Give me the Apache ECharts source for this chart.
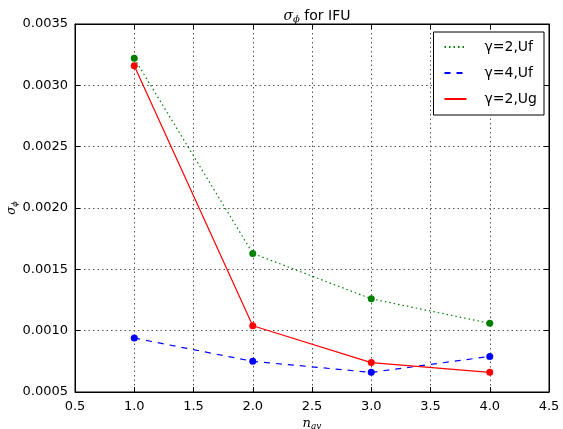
<!DOCTYPE html>
<html><head><meta charset="utf-8">
<script src="https://cdn.jsdelivr.net/npm/echarts@6/dist/echarts.min.js"></script>
<style>html,body{margin:0;padding:0;background:#fff}#c{width:563px;height:429px}</style>
</head><body><div id="c"></div>
<script>
const xValues = [1.0, 2.0, 3.0, 4.0];
const g2Uf = [0.00322, 0.00163, 0.00126, 0.00106];
const g4Uf = [0.00094, 0.00075, 0.00066, 0.00079];
const g2Ug = [0.00316, 0.00104, 0.00074, 0.00066];
const seriesNames = ['γ=2,Uf', 'γ=4,Uf', 'γ=2,Ug'];

const font = 'DejaVu Sans';
const chart = echarts.init(document.getElementById('c'), null, {renderer: 'canvas'});
const pairs = arr => xValues.map((x, i) => [x, arr[i]]);
const mk = (name, data, color, type) => ({
  name, type: 'line', data: pairs(data), symbol: 'circle', symbolSize: 7,
  itemStyle: {color}, lineStyle: {color, width: 1.2, type}, animation: false
});
const gridLine = {show: true, lineStyle: {color: '#555', type: [1.5, 3], width: 1}};
chart.setOption({
  backgroundColor: '#fff',
  title: {
    text: '{s|σ}{sub|ϕ}{n| for IFU}', left: 312, top: 3, textAlign: 'center',
    textStyle: {fontWeight: 'normal', rich: {
      s: {fontFamily: 'DejaVu Serif', fontStyle: 'italic', fontWeight: 'normal', fontSize: 14, color: '#000'},
      sub: {fontFamily: 'DejaVu Serif', fontStyle: 'italic', fontWeight: 'normal', fontSize: 10, color: '#000', padding: [6, 0, 0, 0]},
      n: {fontFamily: font, fontWeight: 'normal', fontSize: 14, color: '#000'}
    }}
  },
  grid: {left: 75, right: 14, top: 24, bottom: 37, outerBoundsMode: 'none', containLabel: false,
         show: true, borderColor: '#000', borderWidth: 1},
  legend: {
    right: 19, top: 32, orient: 'vertical', itemGap: 12, itemWidth: 22, itemHeight: 16,
    backgroundColor: '#fff', borderColor: '#000', borderWidth: 1, padding: [8, 7, 9, 10],
    textStyle: {fontFamily: font, fontSize: 14, color: '#000', padding: [0, 0, 0, 13]},
    itemStyle: {opacity: 0},
    data: seriesNames
  },
  xAxis: [{
    type: 'value', min: 0.5, max: 4.5, interval: 0.5,
    name: '{i|n}{sub|av}', nameLocation: 'middle', nameGap: 24, nameMoveOverlap: false,
    nameTextStyle: {rich: {
      i: {fontFamily: 'DejaVu Serif', fontStyle: 'italic', fontSize: 13, color: '#000'},
      sub: {fontFamily: 'DejaVu Serif', fontStyle: 'italic', fontSize: 9, color: '#000', padding: [6, 0, 0, 0]}
    }},
    axisLine: {show: true, lineStyle: {color: '#000'}},
    axisTick: {show: true, inside: true, length: 5, lineStyle: {color: '#000'}},
    axisLabel: {fontFamily: font, fontSize: 13, color: '#000', margin: 8, formatter: v => v.toFixed(1)},
    splitLine: gridLine
  }, {
    type: 'value', position: 'top', min: 0.5, max: 4.5, interval: 0.5,
    axisLine: {show: true, lineStyle: {color: '#000'}},
    axisTick: {show: true, inside: true, length: 5, lineStyle: {color: '#000'}},
    axisLabel: {show: false}, splitLine: {show: false}
  }],
  yAxis: [{
    type: 'value', min: 0.0005, max: 0.0035, interval: 0.0005,
    name: '{s|σ}{sub|ϕ}', nameLocation: 'middle', nameGap: 56, nameRotate: 90, nameMoveOverlap: false,
    nameTextStyle: {rich: {
      s: {fontFamily: 'DejaVu Serif', fontStyle: 'italic', fontSize: 12, color: '#000'},
      sub: {fontFamily: 'DejaVu Serif', fontStyle: 'italic', fontSize: 8, color: '#000', padding: [6, 0, 0, 0]}
    }},
    axisLine: {show: true, lineStyle: {color: '#000'}},
    axisTick: {show: true, inside: true, length: 5, lineStyle: {color: '#000'}},
    axisLabel: {fontFamily: font, fontSize: 13, color: '#000', margin: 7, formatter: v => v.toFixed(4)},
    splitLine: gridLine
  }, {
    type: 'value', position: 'right', min: 0.0005, max: 0.0035, interval: 0.0005,
    axisLine: {show: true, lineStyle: {color: '#000'}},
    axisTick: {show: true, inside: true, length: 5, lineStyle: {color: '#000'}},
    axisLabel: {show: false}, splitLine: {show: false}
  }],
  series: [
    mk(seriesNames[0], g2Uf, '#008000', [1.5, 3]),
    mk(seriesNames[1], g4Uf, '#0000ff', [6, 6]),
    mk(seriesNames[2], g2Ug, '#ff0000', 'solid')
  ]
});
</script></body></html>
